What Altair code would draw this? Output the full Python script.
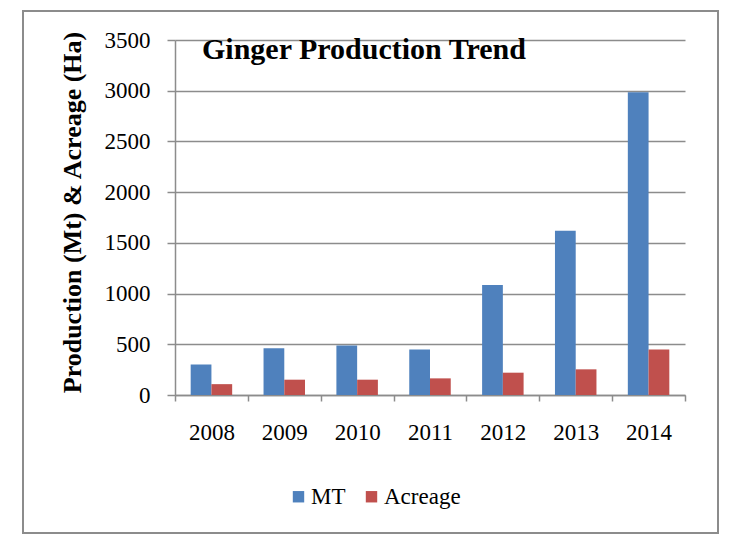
import altair as alt
import pandas as pd

years = ["2008", "2009", "2010", "2011", "2012", "2013", "2014"]
mt = [300, 460, 488, 448, 1085, 1620, 2985]
acreage = [107, 151, 151, 164, 220, 253, 448]
series = ["MT", "Acreage"]
colors = ["#4F81BD", "#C0504D"]
y_ticks = [0, 500, 1000, 1500, 2000, 2500, 3000, 3500]
title_text = "Ginger Production Trend"
y_title = "Production (Mt)  & Acreage (Ha)"

rows = []
for i, yr in enumerate(years):
    rows.append({"year": yr, "series": "MT", "value": mt[i]})
    rows.append({"year": yr, "series": "Acreage", "value": acreage[i]})
df = pd.DataFrame(rows)

W, H = 510, 355
FONT = "'Liberation Serif', 'Times New Roman', Times, serif"
GRAY = "#8c8c8c"

bars = alt.Chart(df).mark_bar().encode(
    x=alt.X(
        "year:N", sort=years,
        scale=alt.Scale(paddingInner=0, paddingOuter=0),
        axis=alt.Axis(
            title=None, labelAngle=0, tickBand="extent", grid=False,
            domainColor=GRAY, domainWidth=1.5, tickColor=GRAY, tickWidth=1.5,
            tickSize=6, labelPadding=20, labelFont=FONT, labelFontSize=23,
            labelColor="black",
        ),
    ),
    xOffset=alt.XOffset(
        "series:N", sort=series,
        scale=alt.Scale(paddingInner=0, paddingOuter=0.756),
    ),
    y=alt.Y(
        "value:Q",
        scale=alt.Scale(domain=[0, 3500], nice=False),
        axis=alt.Axis(
            values=y_ticks, format="d", title=y_title, grid=True,
            gridColor=GRAY, gridWidth=1.5, domainColor=GRAY, domainWidth=1.5,
            tickColor=GRAY, tickWidth=1.5, tickSize=8, labelPadding=17,
            labelFont=FONT, labelFontSize=23, labelColor="black",
            titleFont=FONT, titleFontSize=26, titleFontWeight="bold",
            titleColor="black", titleAngle=270, titleX=-103, titleY=172,
            titleAlign="center", titleBaseline="middle",
        ),
    ),
    color=alt.Color(
        "series:N", sort=series,
        scale=alt.Scale(domain=series, range=colors),
        legend=alt.Legend(
            title=None, orient="none", legendX=112, legendY=445,
            direction="horizontal", symbolType="square", symbolSize=130,
            symbolStrokeWidth=0, labelFont=FONT, labelFontSize=23,
            labelColor="black", columnPadding=14, labelOffset=1,
        ),
    ),
)

frame = alt.Chart(pd.DataFrame({"k": [0]})).mark_rect(
    fillOpacity=0, stroke=GRAY, strokeWidth=2
).encode(
    x=alt.value(-152), x2=alt.value(543), y=alt.value(-29), y2=alt.value(493)
)

title = alt.Chart(pd.DataFrame({"t": [title_text]})).mark_text(
    font=FONT, fontSize=30, fontWeight="bold", color="black",
    align="left", baseline="alphabetic",
).encode(text="t:N", x=alt.value(27), y=alt.value(19))

chart = alt.layer(frame, bars, title).properties(
    width=W, height=H,
    autosize=alt.AutoSizeParams(type="none"),
    padding={"left": 167, "top": 32, "right": 35, "bottom": 150},
).configure_view(stroke=None)

chart.save("out.html", embed_options={"renderer": "svg", "actions": False})
